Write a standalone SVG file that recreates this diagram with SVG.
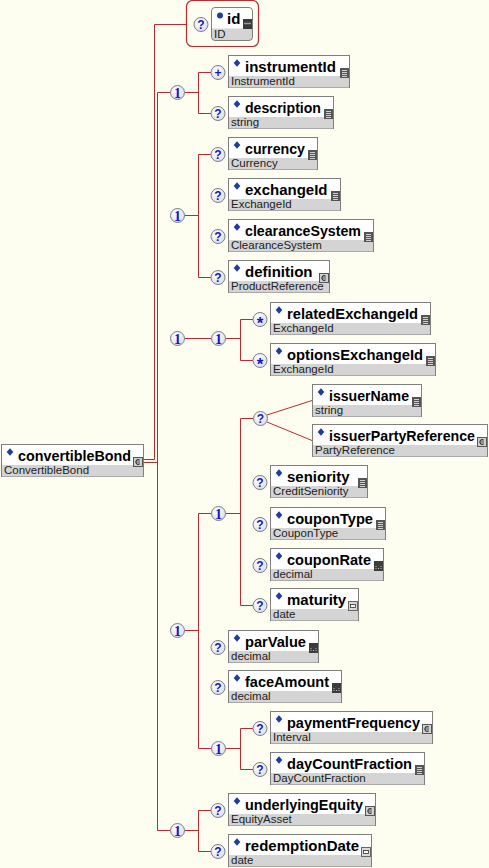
<svg xmlns="http://www.w3.org/2000/svg" xmlns:xlink="http://www.w3.org/1999/xlink" width="489" height="868" viewBox="0 0 489 868">
<style>
.ln{fill:none;stroke:#c0282d;stroke-width:1}
.bx{fill:#fff;stroke:#7f7f7f;stroke-width:1}
.bd{fill:#d4d4d4}
.nm{font-family:"Liberation Sans",Arial,sans-serif;font-weight:bold;font-size:15px;fill:#000}
.ty{font-family:"Liberation Sans",Arial,sans-serif;font-size:11.5px;fill:#222}
.cc{fill:url(#cg);stroke:#7d7d8a;stroke-width:1}
.cq{font-family:"Liberation Sans",Arial,sans-serif;font-weight:bold;font-size:12px;fill:#1414c8;text-anchor:middle}
.cs{font-family:"Liberation Sans",Arial,sans-serif;font-weight:bold;font-size:17px;fill:#1414c8;text-anchor:middle}
.c1{font-family:"Liberation Serif","Times New Roman",serif;font-weight:bold;font-size:14px;fill:#1414c8;text-anchor:middle}
</style>
<defs>
<radialGradient id="cg" cx="40%" cy="35%" r="70%">
<stop offset="0" stop-color="#ffffff"/>
<stop offset="1" stop-color="#d9deec"/>
</radialGradient>
<path id="dia" d="M0,-3.8L3.3,0L0,3.8L-3.3,0Z" fill="#1f3d9c"/>
<g id="i-enum"><rect width="9" height="10" fill="#555"/><path d="M2,2.5H7M2,4.5H7M2,6.5H7M2,8.5H7" stroke="#cfcfcf" stroke-width="1"/></g>
<g id="i-cplx"><rect x="0.5" y="0.5" width="9" height="9" fill="#d0d0d0" stroke="#555"/><path d="M6.6,3.2A2.3,2.3 0 1 0 6.6,6.8" fill="none" stroke="#333" stroke-width="1.1"/><path d="M3.2,5H7" stroke="#333" stroke-width="0.8"/></g>
<g id="i-dec"><rect width="9" height="10" fill="#3c3c3c"/><path d="M1.5,7.5h1M4,7.5h1M6.5,7.5h1M1.5,5.5h1M6.5,5.5h1" stroke="#bbb"/></g>
<g id="i-date"><rect x="0.5" y="0.5" width="9" height="9" fill="#d8d8d8" stroke="#666"/><rect x="2.5" y="3.5" width="5" height="3" fill="#f4f4f4" stroke="#333" stroke-width="0.8"/></g>
<g id="i-attr"><rect width="9" height="10" fill="#3a3a3a"/><path d="M1,4.5H8" stroke="#9a9a9a" stroke-width="1.5"/></g>
</defs>
<rect width="489" height="868" fill="#fefef0"/>

<g id="connectors" class="ln">
<path d="M144,459.5H154.5V24.5H186"/>
<path d="M144,462.5H157.5M157.5,92.5V830.5M157.5,92.5H170.5M157.5,830.5H170.5"/>
<path d="M184.5,92.5H198.5M198.5,72.5V113.5M198.5,72.5H211M198.5,113.5H211"/>
<path d="M184.5,215.5H198.5M198.5,154.5V277.5M198.5,154.5H211M198.5,277.5H211"/>
<path d="M184.5,338.5H211.5M225.5,338.5H240.5M240.5,319.5V360.5M240.5,319.5H253M240.5,360.5H253"/>
<path d="M184.5,630.5H198.5M198.5,513.5V748.5M198.5,513.5H211.5M198.5,748.5H211.5"/>
<path d="M225.5,513.5H240.5M240.5,418.5V605.5M240.5,418.5H253.5M240.5,605.5H253"/>
<path d="M267,415L312,400.5M267,422L312,440.5"/>
<path d="M225.5,748.5H240.5M240.5,728.5V769.5M240.5,728.5H253M240.5,769.5H253"/>
<path d="M184.5,830.5H198.5M198.5,810.5V851.5M198.5,810.5H211M198.5,851.5H211"/>
</g>

<g id="compositors">
<g id="seq1"><circle class="cc" cx="177.5" cy="92.5" r="7"/><text class="c1" x="177.5" y="97.5">1</text></g>
<g id="seq2"><circle class="cc" cx="177.5" cy="215.5" r="7"/><text class="c1" x="177.5" y="220.5">1</text></g>
<g id="seq3"><circle class="cc" cx="177.5" cy="338.5" r="7"/><text class="c1" x="177.5" y="343.5">1</text></g>
<g id="seq3b"><circle class="cc" cx="218.5" cy="338.5" r="7"/><text class="c1" x="218.5" y="343.5">1</text></g>
<g id="seq4"><circle class="cc" cx="177.5" cy="630.5" r="7"/><text class="c1" x="177.5" y="635.5">1</text></g>
<g id="seq4a"><circle class="cc" cx="218.5" cy="513.5" r="7"/><text class="c1" x="218.5" y="518.5">1</text></g>
<g id="choice"><circle class="cc" cx="260.5" cy="418.5" r="7"/><text class="cq" x="260.5" y="422.8">?</text></g>
<g id="seq4b"><circle class="cc" cx="218.5" cy="748.5" r="7"/><text class="c1" x="218.5" y="753.5">1</text></g>
<g id="seq5"><circle class="cc" cx="177.5" cy="830.5" r="7"/><text class="c1" x="177.5" y="835.5">1</text></g>
</g>

<g id="convertibleBond" transform="translate(1,444)">
<rect class="bx" x="0.5" y="0.5" width="142" height="32"/>
<rect class="bd" x="1" y="21" width="141" height="11.5"/>
<use xlink:href="#dia" x="9" y="8"/>
<text class="nm" x="17" y="16.5" textLength="113" lengthAdjust="spacingAndGlyphs">convertibleBond</text>
<text class="ty" x="3" y="30">ConvertibleBond</text>
<use xlink:href="#i-cplx" x="132" y="13"/>
</g>

<g id="id">
<rect x="186.5" y="0.5" width="72" height="46" rx="6" fill="none" stroke="#c0282d" stroke-width="1.2"/>
<circle class="cc" cx="201" cy="24.5" r="7"/><text class="cq" x="201" y="28.8">?</text>
<rect x="211.5" y="7.5" width="41" height="33" rx="3.5" fill="#fff"/>
<rect x="212" y="28.5" width="40" height="11.5" fill="#d4d4d4"/>
<rect x="211.5" y="7.5" width="41" height="33" rx="3.5" fill="none" stroke="#7f7f7f"/>
<circle cx="220" cy="15.5" r="3" fill="#1f3d9c"/>
<text class="nm" x="227" y="24">id</text>
<text class="ty" x="214" y="37.5">ID</text>
<use xlink:href="#i-attr" x="243" y="19"/>
</g>

<g id="instrumentId" transform="translate(228,55)">
<circle class="cc" cx="-10" cy="17.5" r="7"/><text class="cq" x="-10" y="21.8">+</text>
<rect class="bx" x="0.5" y="0.5" width="121" height="32"/><rect class="bd" x="1" y="21" width="120" height="11.5"/>
<use xlink:href="#dia" x="9" y="8"/>
<text class="nm" x="17" y="16.5">instrumentId</text>
<text class="ty" x="3" y="30">InstrumentId</text>
<use xlink:href="#i-enum" x="112" y="13"/>
</g>

<g id="description" transform="translate(228,96)">
<circle class="cc" cx="-10" cy="17.5" r="7"/><text class="cq" x="-10" y="21.8">?</text>
<rect class="bx" x="0.5" y="0.5" width="105" height="32"/><rect class="bd" x="1" y="21" width="104" height="11.5"/>
<use xlink:href="#dia" x="9" y="8"/>
<text class="nm" x="17" y="16.5" textLength="76" lengthAdjust="spacingAndGlyphs">description</text>
<text class="ty" x="3" y="30">string</text>
<use xlink:href="#i-enum" x="96" y="13"/>
</g>

<g id="currency" transform="translate(228,137)">
<circle class="cc" cx="-10" cy="17.5" r="7"/><text class="cq" x="-10" y="21.8">?</text>
<rect class="bx" x="0.5" y="0.5" width="89" height="32"/><rect class="bd" x="1" y="21" width="88" height="11.5"/>
<use xlink:href="#dia" x="9" y="8"/>
<text class="nm" x="17" y="16.5" textLength="60" lengthAdjust="spacingAndGlyphs">currency</text>
<text class="ty" x="3" y="30">Currency</text>
<use xlink:href="#i-enum" x="80" y="13"/>
</g>

<g id="exchangeId" transform="translate(228,178)">
<circle class="cc" cx="-10" cy="17.5" r="7"/><text class="cq" x="-10" y="21.8">?</text>
<rect class="bx" x="0.5" y="0.5" width="112" height="32"/><rect class="bd" x="1" y="21" width="111" height="11.5"/>
<use xlink:href="#dia" x="9" y="8"/>
<text class="nm" x="17" y="16.5">exchangeId</text>
<text class="ty" x="3" y="30">ExchangeId</text>
<use xlink:href="#i-enum" x="103" y="13"/>
</g>

<g id="clearanceSystem" transform="translate(228,219)">
<circle class="cc" cx="-10" cy="17.5" r="7"/><text class="cq" x="-10" y="21.8">?</text>
<rect class="bx" x="0.5" y="0.5" width="145" height="32"/><rect class="bd" x="1" y="21" width="144" height="11.5"/>
<use xlink:href="#dia" x="9" y="8"/>
<text class="nm" x="17" y="16.5" textLength="116" lengthAdjust="spacingAndGlyphs">clearanceSystem</text>
<text class="ty" x="3" y="30">ClearanceSystem</text>
<use xlink:href="#i-enum" x="136" y="13"/>
</g>

<g id="definition" transform="translate(228,260)">
<circle class="cc" cx="-10" cy="17.5" r="7"/><text class="cq" x="-10" y="21.8">?</text>
<rect class="bx" x="0.5" y="0.5" width="101" height="32"/><rect class="bd" x="1" y="21" width="100" height="11.5"/>
<use xlink:href="#dia" x="9" y="8"/>
<text class="nm" x="17" y="16.5">definition</text>
<text class="ty" x="3" y="30">ProductReference</text>
<use xlink:href="#i-cplx" x="91" y="13"/>
</g>

<g id="relatedExchangeId" transform="translate(270,302)">
<circle class="cc" cx="-10" cy="17.5" r="7"/><text class="cs" x="-10" y="27">*</text>
<rect class="bx" x="0.5" y="0.5" width="160" height="32"/><rect class="bd" x="1" y="21" width="159" height="11.5"/>
<use xlink:href="#dia" x="9" y="8"/>
<text class="nm" x="17" y="16.5" textLength="131" lengthAdjust="spacingAndGlyphs">relatedExchangeId</text>
<text class="ty" x="3" y="30">ExchangeId</text>
<use xlink:href="#i-enum" x="151" y="13"/>
</g>

<g id="optionsExchangeId" transform="translate(270,343)">
<circle class="cc" cx="-10" cy="17.5" r="7"/><text class="cs" x="-10" y="27">*</text>
<rect class="bx" x="0.5" y="0.5" width="165" height="32"/><rect class="bd" x="1" y="21" width="164" height="11.5"/>
<use xlink:href="#dia" x="9" y="8"/>
<text class="nm" x="17" y="16.5" textLength="136" lengthAdjust="spacingAndGlyphs">optionsExchangeId</text>
<text class="ty" x="3" y="30">ExchangeId</text>
<use xlink:href="#i-enum" x="156" y="13"/>
</g>

<g id="issuerName" transform="translate(312,384)">
<rect class="bx" x="0.5" y="0.5" width="109" height="32"/><rect class="bd" x="1" y="21" width="108" height="11.5"/>
<use xlink:href="#dia" x="9" y="8"/>
<text class="nm" x="17" y="16.5" textLength="80" lengthAdjust="spacingAndGlyphs">issuerName</text>
<text class="ty" x="3" y="30">string</text>
<use xlink:href="#i-enum" x="100" y="13"/>
</g>

<g id="issuerPartyReference" transform="translate(312,424)">
<rect class="bx" x="0.5" y="0.5" width="175" height="32"/><rect class="bd" x="1" y="21" width="174" height="11.5"/>
<use xlink:href="#dia" x="9" y="8"/>
<text class="nm" x="17" y="16.5" textLength="146" lengthAdjust="spacingAndGlyphs">issuerPartyReference</text>
<text class="ty" x="3" y="30">PartyReference</text>
<use xlink:href="#i-cplx" x="165" y="13"/>
</g>

<g id="seniority" transform="translate(270,465)">
<circle class="cc" cx="-10" cy="17.5" r="7"/><text class="cq" x="-10" y="21.8">?</text>
<rect class="bx" x="0.5" y="0.5" width="97" height="32"/><rect class="bd" x="1" y="21" width="96" height="11.5"/>
<use xlink:href="#dia" x="9" y="8"/>
<text class="nm" x="17" y="16.5">seniority</text>
<text class="ty" x="3" y="30">CreditSeniority</text>
<use xlink:href="#i-enum" x="88" y="13"/>
</g>

<g id="couponType" transform="translate(270,507)">
<circle class="cc" cx="-10" cy="17.5" r="7"/><text class="cq" x="-10" y="21.8">?</text>
<rect class="bx" x="0.5" y="0.5" width="115" height="32"/><rect class="bd" x="1" y="21" width="114" height="11.5"/>
<use xlink:href="#dia" x="9" y="8"/>
<text class="nm" x="17" y="16.5" textLength="86" lengthAdjust="spacingAndGlyphs">couponType</text>
<text class="ty" x="3" y="30">CouponType</text>
<use xlink:href="#i-enum" x="106" y="13"/>
</g>

<g id="couponRate" transform="translate(270,548)">
<circle class="cc" cx="-10" cy="17.5" r="7"/><text class="cq" x="-10" y="21.8">?</text>
<rect class="bx" x="0.5" y="0.5" width="113" height="32"/><rect class="bd" x="1" y="21" width="112" height="11.5"/>
<use xlink:href="#dia" x="9" y="8"/>
<text class="nm" x="17" y="16.5" textLength="84" lengthAdjust="spacingAndGlyphs">couponRate</text>
<text class="ty" x="3" y="30">decimal</text>
<use xlink:href="#i-dec" x="104" y="13"/>
</g>

<g id="maturity" transform="translate(270,588)">
<circle class="cc" cx="-10" cy="17.5" r="7"/><text class="cq" x="-10" y="21.8">?</text>
<rect class="bx" x="0.5" y="0.5" width="88" height="32"/><rect class="bd" x="1" y="21" width="87" height="11.5"/>
<use xlink:href="#dia" x="9" y="8"/>
<text class="nm" x="17" y="16.5">maturity</text>
<text class="ty" x="3" y="30">date</text>
<use xlink:href="#i-date" x="78" y="13"/>
</g>

<g id="parValue" transform="translate(228,630)">
<circle class="cc" cx="-10" cy="17.5" r="7"/><text class="cq" x="-10" y="21.8">?</text>
<rect class="bx" x="0.5" y="0.5" width="90" height="32"/><rect class="bd" x="1" y="21" width="89" height="11.5"/>
<use xlink:href="#dia" x="9" y="8"/>
<text class="nm" x="17" y="16.5" textLength="61" lengthAdjust="spacingAndGlyphs">parValue</text>
<text class="ty" x="3" y="30">decimal</text>
<use xlink:href="#i-dec" x="81" y="13"/>
</g>

<g id="faceAmount" transform="translate(228,670)">
<circle class="cc" cx="-10" cy="17.5" r="7"/><text class="cq" x="-10" y="21.8">?</text>
<rect class="bx" x="0.5" y="0.5" width="113" height="32"/><rect class="bd" x="1" y="21" width="112" height="11.5"/>
<use xlink:href="#dia" x="9" y="8"/>
<text class="nm" x="17" y="16.5" textLength="84" lengthAdjust="spacingAndGlyphs">faceAmount</text>
<text class="ty" x="3" y="30">decimal</text>
<use xlink:href="#i-dec" x="104" y="13"/>
</g>

<g id="paymentFrequency" transform="translate(270,711)">
<circle class="cc" cx="-10" cy="17.5" r="7"/><text class="cq" x="-10" y="21.8">?</text>
<rect class="bx" x="0.5" y="0.5" width="162" height="32"/><rect class="bd" x="1" y="21" width="161" height="11.5"/>
<use xlink:href="#dia" x="9" y="8"/>
<text class="nm" x="17" y="16.5" textLength="133" lengthAdjust="spacingAndGlyphs">paymentFrequency</text>
<text class="ty" x="3" y="30">Interval</text>
<use xlink:href="#i-cplx" x="152" y="13"/>
</g>

<g id="dayCountFraction" transform="translate(270,752)">
<circle class="cc" cx="-10" cy="17.5" r="7"/><text class="cq" x="-10" y="21.8">?</text>
<rect class="bx" x="0.5" y="0.5" width="154" height="32"/><rect class="bd" x="1" y="21" width="153" height="11.5"/>
<use xlink:href="#dia" x="9" y="8"/>
<text class="nm" x="17" y="16.5" textLength="125" lengthAdjust="spacingAndGlyphs">dayCountFraction</text>
<text class="ty" x="3" y="30">DayCountFraction</text>
<use xlink:href="#i-enum" x="145" y="13"/>
</g>

<g id="underlyingEquity" transform="translate(228,793)">
<circle class="cc" cx="-10" cy="17.5" r="7"/><text class="cq" x="-10" y="21.8">?</text>
<rect class="bx" x="0.5" y="0.5" width="147" height="32"/><rect class="bd" x="1" y="21" width="146" height="11.5"/>
<use xlink:href="#dia" x="9" y="8"/>
<text class="nm" x="17" y="16.5" textLength="118" lengthAdjust="spacingAndGlyphs">underlyingEquity</text>
<text class="ty" x="3" y="30">EquityAsset</text>
<use xlink:href="#i-cplx" x="137" y="13"/>
</g>

<g id="redemptionDate" transform="translate(228,834)">
<circle class="cc" cx="-10" cy="17.5" r="7"/><text class="cq" x="-10" y="21.8">?</text>
<rect class="bx" x="0.5" y="0.5" width="143" height="32"/><rect class="bd" x="1" y="21" width="142" height="11.5"/>
<use xlink:href="#dia" x="9" y="8"/>
<text class="nm" x="17" y="16.5">redemptionDate</text>
<text class="ty" x="3" y="30">date</text>
<use xlink:href="#i-date" x="133" y="13"/>
</g>
</svg>
